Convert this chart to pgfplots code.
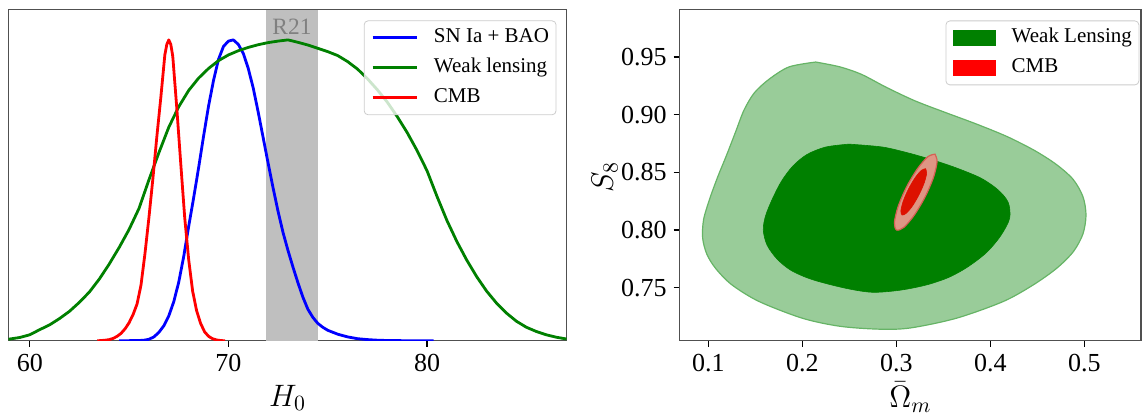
\documentclass[border=0pt]{standalone}
\usepackage{fix-cm}
\usepackage{fontspec}
\setmainfont{Liberation Serif}
\usepackage{pgfplots}
\pgfplotsset{compat=1.18}

\definecolor{cblue}{RGB}{0,0,255}
\definecolor{cgreen}{RGB}{0,128,0}
\definecolor{cred}{RGB}{255,0,0}
\definecolor{bandgray}{RGB}{191,191,191}
\definecolor{rtext}{RGB}{128,128,128}
\definecolor{wlout}{RGB}{153,204,153}
\definecolor{wledge}{RGB}{102,180,102}
\definecolor{cmbout}{RGB}{222,150,132}
\definecolor{cmbedge}{RGB}{214,96,84}
\definecolor{cmbin}{RGB}{221,17,0}
\definecolor{spine}{RGB}{80,80,80}

\pgfplotsset{
  mystyle/.style={
    scale only axis, height=165.5pt,
    axis line style={spine, line width=0.6pt},
    tick style={black, line width=0.6pt},
    tick align=outside, major tick length=3pt,
    xtick pos=left, ytick pos=left,
    ticklabel style={font=\fontsize{13}{15}\selectfont},
    /pgf/number format/assume math mode=true,
    label style={font=\fontsize{15.5}{18}\selectfont, inner sep=0pt},
    legend cell align=left,
  }
}

\begin{document}
\begin{tikzpicture}
\useasboundingbox (0,0) rectangle (571pt,207pt);
% ---------------- left panel ----------------
\begin{axis}[mystyle, at={(4.25pt,36.6pt)}, anchor=south west, width=279pt,
  xmin=58.93, xmax=87.02, ymin=0, ymax=1.1,
  xtick={60,70,80}, ytick=\empty,
  xlabel={$H_0$},
  xlabel style={at={(axis description cs:0.5,-0.172)}, anchor=center},
  legend image code/.code={\draw[#1, line width=1.4pt] (0pt,0pt) -- (22pt,0pt);},
  legend style={at={(0.982,0.968)}, anchor=north east, draw=black!20,
    rounded corners=2pt, fill=white, fill opacity=0.8, draw opacity=1, text opacity=1,
    inner xsep=3.5pt, inner ysep=3.5pt, row sep=5pt, column sep=8pt,
    font=\fontsize{10.5}{12}\selectfont,
    nodes={inner sep=0pt, text height=7.5pt, text depth=2.5pt}},
]
\addplot[fill=bandgray, draw=none, forget plot] coordinates {(71.9,0) (74.5,0) (74.5,1.1) (71.9,1.1)} -- cycle;
\node[text=rtext, font=\fontsize{11.7}{13}\selectfont] at (axis cs:73.2,1.044) {R21};

\addplot[cblue, line width=1.4pt, line join=round] coordinates {
(64.50,0.000) (65.00,0.0005) (65.50,0.001) (65.75,0.002) (66.00,0.005) (66.25,0.013)
(66.50,0.028) (66.75,0.050) (67.00,0.083) (67.25,0.130) (67.50,0.195) (67.75,0.280)
(68.00,0.380) (68.25,0.475) (68.50,0.575) (68.75,0.680) (69.00,0.780) (69.25,0.865)
(69.50,0.935) (69.75,0.978) (70.00,0.996) (70.25,1.000) (70.50,0.985) (70.75,0.955)
(71.00,0.905) (71.25,0.840) (71.50,0.760) (71.75,0.675) (72.00,0.590) (72.25,0.508)
(72.50,0.430) (72.75,0.360) (73.00,0.300) (73.25,0.245) (73.50,0.193) (73.75,0.145)
(74.00,0.105) (74.25,0.078) (74.50,0.058) (74.75,0.045) (75.00,0.035) (75.50,0.022)
(76.00,0.013) (76.50,0.007) (77.00,0.004) (77.50,0.002) (78.00,0.001) (79.00,0.0003)
(80.33,0.000)
};
\addlegendentry{SN Ia + BAO}

\addplot[cgreen, line width=1.4pt, line join=round] coordinates {
(58.93,0.005) (59.0,0.006) (59.5,0.011) (60.0,0.020) (60.5,0.037) (61.0,0.053)
(61.5,0.074) (62.0,0.098) (62.5,0.128) (63.0,0.162) (63.5,0.205) (64.0,0.255)
(64.5,0.310) (65.0,0.370) (65.5,0.440) (66.0,0.535) (66.5,0.625) (67.0,0.710)
(67.5,0.778) (68.0,0.832) (68.5,0.873) (69.0,0.905) (69.5,0.931) (70.0,0.950)
(70.5,0.964) (71.0,0.975) (71.5,0.984) (72.0,0.991) (72.5,0.996) (73.0,1.000)
(73.5,0.992) (74.0,0.983) (74.5,0.972) (75.0,0.961) (75.5,0.948) (76.0,0.928)
(76.5,0.903) (77.0,0.871) (77.5,0.834) (78.0,0.793) (78.5,0.745) (79.0,0.692)
(79.5,0.632) (80.0,0.565) (80.5,0.480) (81.0,0.400) (81.5,0.330) (82.0,0.268)
(82.5,0.213) (83.0,0.165) (83.5,0.125) (84.0,0.092) (84.5,0.065) (85.0,0.045)
(85.5,0.031) (86.0,0.020) (86.5,0.012) (87.02,0.006)
};
\addlegendentry{Weak lensing}

\addplot[cred, line width=1.4pt, line join=round] coordinates {
(63.4,0.000) (63.6,0.001) (63.8,0.002) (64.0,0.004) (64.2,0.008) (64.4,0.015)
(64.6,0.025) (64.8,0.040) (65.0,0.060) (65.2,0.087) (65.4,0.122) (65.6,0.185)
(65.8,0.290) (66.0,0.410) (66.2,0.540) (66.4,0.680) (66.6,0.810) (66.8,0.950)
(66.9,0.985) (67.0,1.000) (67.1,0.985) (67.2,0.945) (67.4,0.775) (67.6,0.590)
(67.8,0.410) (68.0,0.270) (68.2,0.165) (68.4,0.100) (68.6,0.058) (68.8,0.030)
(69.0,0.015) (69.2,0.007) (69.4,0.003) (69.6,0.001) (69.83,0.000)
};
\addlegendentry{CMB}
\end{axis}

% ---------------- right panel ----------------
\begin{axis}[mystyle, at={(339.85pt,36.6pt)}, anchor=south west, width=230.65pt,
  xmin=0.0696, xmax=0.5603, ymin=0.7039, ymax=0.991,
  xtick={0.1,0.2,0.3,0.4,0.5},
  ytick={0.75,0.80,0.85,0.90,0.95},
  xticklabel style={/pgf/number format/.cd, fixed, precision=1},
  yticklabel style={/pgf/number format/.cd, fixed, fixed zerofill, precision=2},
  xlabel={$\bar{\Omega}_m$}, ylabel={$S_8$},
  xlabel style={at={(axis description cs:0.5,-0.17)}, anchor=center},
  ylabel style={at={(axis description cs:-0.1626,0.494)}, anchor=center},
  legend image code/.code={\fill[#1, fill opacity=1, draw=none, sharp corners] (0pt,-3.85pt) rectangle (21.7pt,3.85pt);},
  legend style={at={(0.9963,0.9677)}, anchor=north east, draw=black!20,
    rounded corners=2pt, fill=white, fill opacity=0.8, draw opacity=1, text opacity=1,
    inner xsep=3.5pt, inner ysep=3.5pt, row sep=5pt, column sep=7.7pt,
    font=\fontsize{10.5}{12}\selectfont,
    nodes={inner sep=0pt, text height=7.5pt, text depth=2.5pt}},
]
\addplot[fill=wlout, draw=wledge, line width=0.6pt, smooth, forget plot] coordinates {
(0.2143,0.9457) (0.186,0.9415) (0.165,0.931) (0.149,0.919) (0.138,0.904)
(0.129,0.885) (0.1195,0.865) (0.110,0.846) (0.1015,0.827) (0.0950,0.809)
(0.0940,0.793) (0.0985,0.779) (0.108,0.7665) (0.125,0.7525) (0.154,0.738)
(0.200,0.7235) (0.240,0.7165) (0.2816,0.714) (0.3146,0.7150) (0.364,0.7235)
(0.4138,0.738) (0.4457,0.7524) (0.4706,0.7668) (0.4883,0.7812) (0.4985,0.7965)
(0.5018,0.813) (0.4985,0.829) (0.488,0.844) (0.470,0.857) (0.447,0.869)
(0.418,0.881) (0.385,0.892) (0.352,0.902) (0.320,0.912) (0.290,0.9235)
(0.263,0.935) (0.240,0.9415) (0.2143,0.9457)
} -- cycle;

\addplot[fill=cgreen, draw=cgreen, line width=0.3pt, smooth, forget plot] coordinates {
(0.2497,0.8745) (0.225,0.8720) (0.2050,0.8655) (0.1900,0.8555) (0.1780,0.8425)
(0.1685,0.8275) (0.1610,0.8125) (0.1585,0.8000) (0.1625,0.7870) (0.1730,0.7750)
(0.1880,0.7650) (0.2106,0.7570) (0.2461,0.7495) (0.2745,0.7460) (0.304,0.7478)
(0.3323,0.7524) (0.3560,0.7590) (0.3760,0.7680) (0.3960,0.7805) (0.4110,0.7950)
(0.4205,0.8100) (0.4190,0.8240) (0.4080,0.8350) (0.3900,0.8450) (0.3650,0.8535)
(0.3394,0.8606) (0.3120,0.8670) (0.2850,0.8720) (0.2497,0.8745)
} -- cycle;

\addplot[fill=cmbout, draw=cmbedge, line width=0.6pt, smooth, forget plot] coordinates {
(0.3411,0.8658) (0.3434,0.8594) (0.3396,0.8458) (0.3307,0.8288) (0.3191,0.8129)
(0.3080,0.8023) (0.3003,0.8000) (0.2980,0.8064) (0.3018,0.8200) (0.3107,0.8370)
(0.3223,0.8529) (0.3334,0.8635) (0.3411,0.8658)
} -- cycle;

\addplot[fill=cmbin, draw=cmbin, line width=0.3pt, smooth, forget plot] coordinates {
(0.3311,0.8532) (0.3323,0.8494) (0.3298,0.8411) (0.3243,0.8308) (0.3173,0.8210)
(0.3106,0.8145) (0.3061,0.8130) (0.3049,0.8168) (0.3074,0.8251) (0.3129,0.8355)
(0.3199,0.8452) (0.3266,0.8517) (0.3311,0.8532)
} -- cycle;

\addlegendimage{fill=cgreen}
\addlegendentry{Weak Lensing}
\addlegendimage{fill=cred}
\addlegendentry{CMB}
\end{axis}
\end{tikzpicture}
\end{document}
